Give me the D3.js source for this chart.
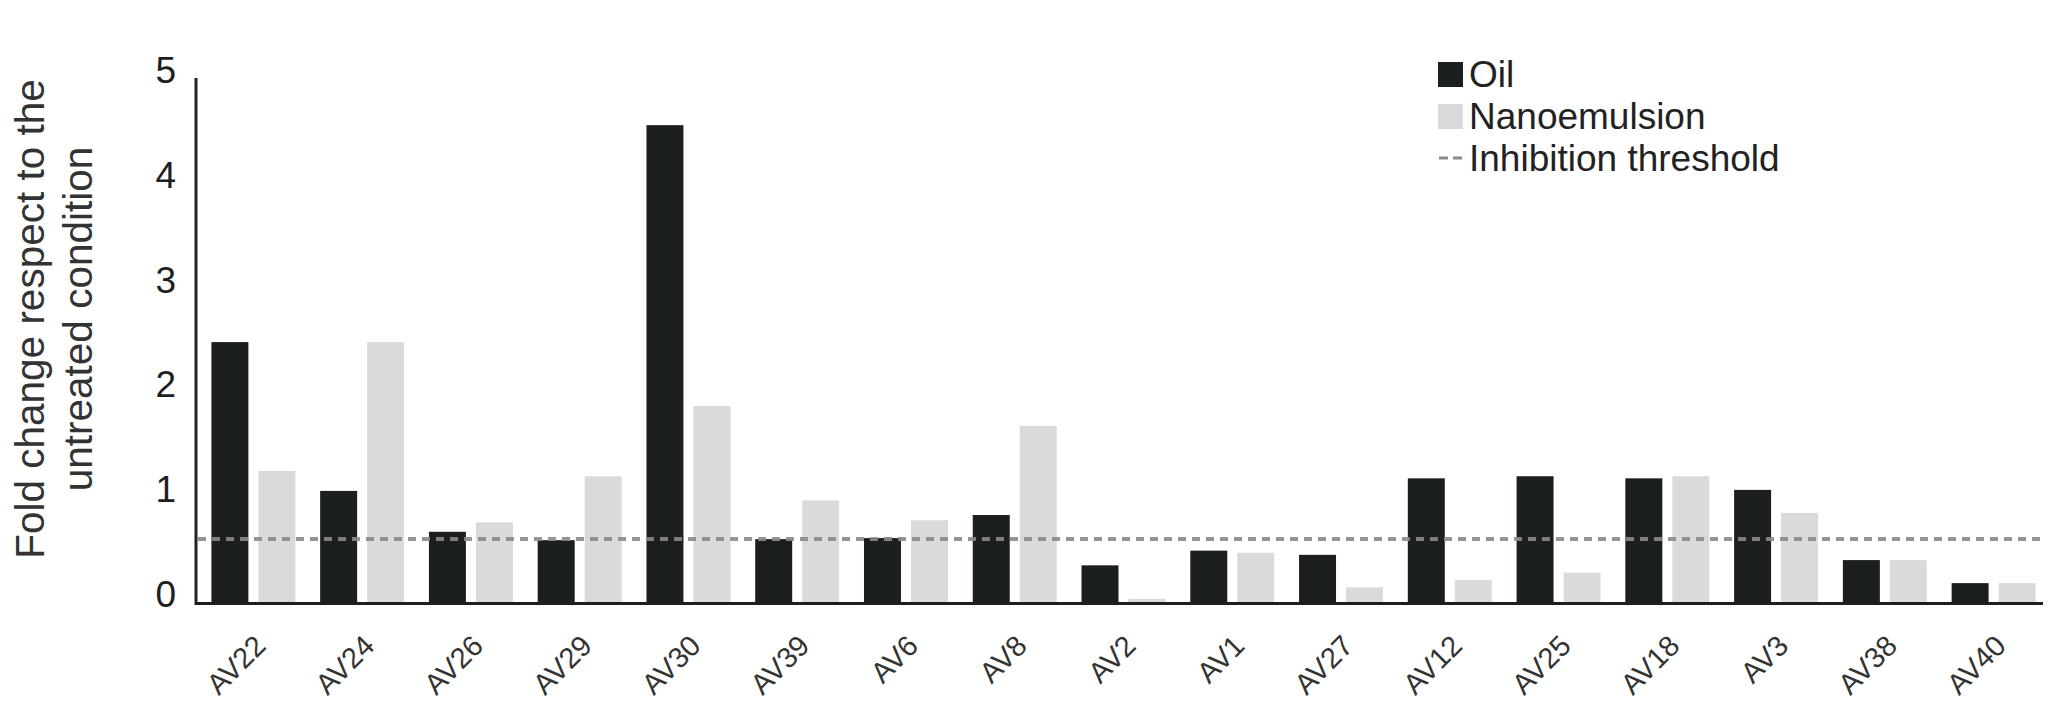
<!DOCTYPE html>
<html>
<head>
<meta charset="utf-8">
<script src="https://cdn.jsdelivr.net/npm/d3@7"></script>
<style>
  html, body { margin: 0; padding: 0; background: #fff; }
  svg { display: block; font-family: "Liberation Sans", Arial, Helvetica, sans-serif; }
</style>
</head>
<body>
<svg id="chart" width="2058" height="710"></svg>
<script>
const categories = ["AV22","AV24","AV26","AV29","AV30","AV39","AV6","AV8","AV2","AV1","AV27","AV12","AV25","AV18","AV3","AV38","AV40"];
const oilValues  = [2.48, 1.06, 0.67, 0.59, 4.55, 0.60, 0.61, 0.83, 0.35, 0.49, 0.45, 1.18, 1.20, 1.18, 1.07, 0.40, 0.18];
const nanoValues = [1.25, 2.48, 0.76, 1.20, 1.87, 0.97, 0.78, 1.68, 0.03, 0.47, 0.14, 0.21, 0.28, 1.20, 0.85, 0.40, 0.18];
const seriesNames = ["Oil", "Nanoemulsion"];
const yTicks = [0, 1, 2, 3, 4, 5];
const threshold = 0.6;
const yTitleLines = ["Fold change respect to the", "untreated condition"];
const legendLabels = ["Oil", "Nanoemulsion", "Inhibition threshold"];

const colors = { Oil: "#1b1f20", Nanoemulsion: "#d9dadc" };

const svg = d3.select("#chart");
svg.append("rect").attr("width", 2058).attr("height", 710).attr("fill", "#fff");

const y = d3.scaleLinear().domain([0, 5]).range([602, 78]);
const x0 = d3.scaleBand().domain(categories).range([199, 2048]).paddingInner(0.228).paddingOuter(0.114);
const x1 = d3.scaleBand().domain(seriesNames).range([0, x0.bandwidth()]).paddingInner(0.213);

const data = categories.map((c, i) => ({ cat: c, values: [
  { key: "Oil", v: oilValues[i] },
  { key: "Nanoemulsion", v: nanoValues[i] }
]}));

// bars
const groups = svg.append("g").selectAll("g").data(data).join("g")
  .attr("transform", d => `translate(${x0(d.cat)},0)`);
groups.selectAll("rect").data(d => d.values).join("rect")
  .attr("x", d => x1(d.key))
  .attr("width", x1.bandwidth())
  .attr("y", d => y(d.v))
  .attr("height", d => y(0) - y(d.v))
  .attr("fill", d => colors[d.key]);

// threshold line
svg.append("line")
  .attr("x1", 198).attr("x2", 2043)
  .attr("y1", y(threshold)).attr("y2", y(threshold))
  .attr("stroke", "#8a8a8a").attr("stroke-width", 4)
  .attr("stroke-dasharray", "8,6").attr("opacity", 0.9);

// y axis
const yAxis = svg.append("g").attr("transform", "translate(196,0)")
  .call(d3.axisLeft(y).tickValues(yTicks).tickSize(0).tickPadding(20).tickFormat(d3.format("d")));
yAxis.select(".domain").attr("stroke", "#222").attr("stroke-width", 3)
  .attr("d", `M0,${y(5)}V${y(0) + 3}`);
yAxis.selectAll("text").attr("font-size", 37).attr("fill", "#1e1e1e")
  .attr("font-family", "Liberation Sans, Arial, sans-serif").attr("dy", "0.12em");

// x axis
const xAxis = svg.append("g").attr("transform", `translate(0,${y(0) + 1.5})`)
  .call(d3.axisBottom(x0).tickSize(0).tickPadding(0));
xAxis.select(".domain").attr("stroke", "#1e1e1e").attr("stroke-width", 3)
  .attr("d", "M195,0H2043");
xAxis.selectAll(".tick text")
  .attr("font-size", 29).attr("fill", "#333")
  .attr("font-family", "Liberation Sans, Arial, sans-serif")
  .attr("text-anchor", "end")
  .attr("dy", 0).attr("y", 0)
  .attr("transform", "translate(14,44) rotate(-45)");

// y title
const yt = svg.append("g");
yTitleLines.forEach((t, i) => {
  yt.append("text")
    .attr("transform", `translate(${30 + i * 48},319) rotate(-90)`)
    .attr("text-anchor", "middle")
    .attr("dominant-baseline", "central")
    .attr("font-size", 40.5)
    .attr("fill", "#333")
    .text(t);
});

// legend
const lg = svg.append("g");
const lx = 1438;
[0, 1].forEach(i => {
  lg.append("rect").attr("x", lx).attr("y", 62 + i * 42).attr("width", 25).attr("height", 25)
    .attr("fill", colors[seriesNames[i]]);
});
lg.append("line").attr("x1", lx + 1).attr("x2", lx + 26).attr("y1", 158).attr("y2", 158)
  .attr("stroke", "#8a8a8a").attr("stroke-width", 3).attr("stroke-dasharray", "9,5");
legendLabels.forEach((t, i) => {
  lg.append("text").attr("x", 1469).attr("y", 87 + i * 42)
    .attr("font-size", 37).attr("fill", "#222").text(t);
});
</script>
</body>
</html>
